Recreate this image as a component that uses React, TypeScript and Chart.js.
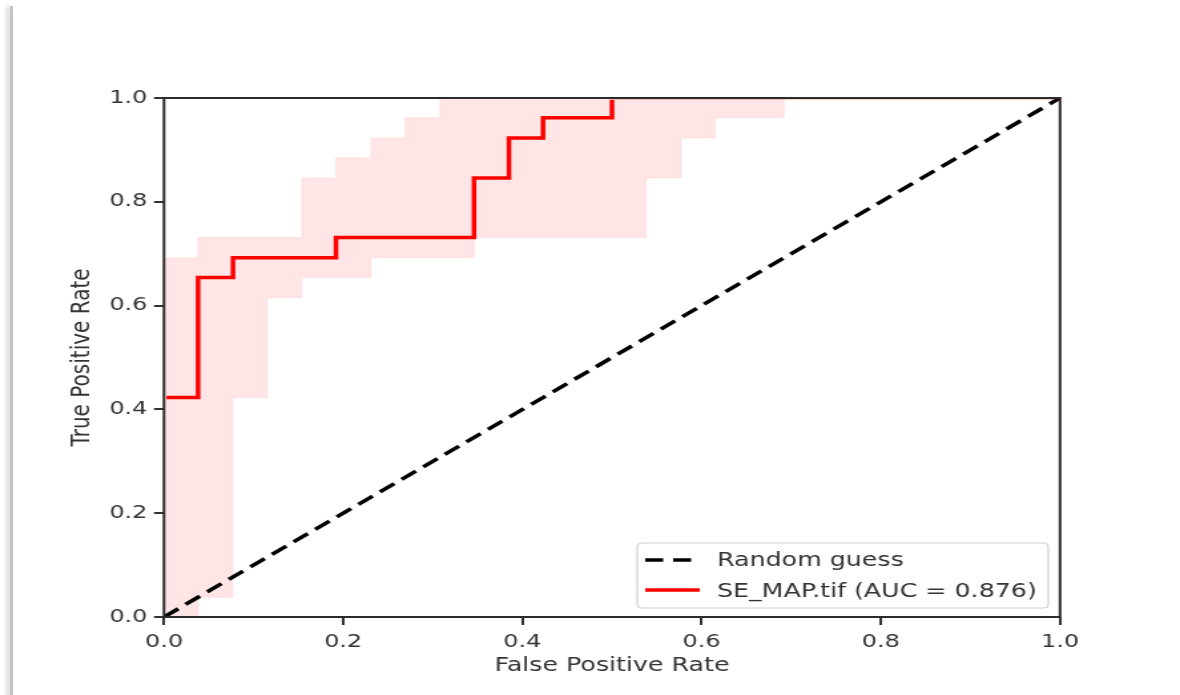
import React, { useEffect, useRef } from "react";
import { Chart, registerables } from "chart.js";

Chart.register(...registerables);

// ---- data ----
const rocFpr = [0, 0, 0.038, 0.038, 0.077, 0.077, 0.192, 0.192, 0.346, 0.346, 0.385, 0.385, 0.423, 0.423, 0.5, 0.5, 1.0];
const rocTpr = [0, 0.423, 0.423, 0.654, 0.654, 0.692, 0.692, 0.731, 0.731, 0.846, 0.846, 0.923, 0.923, 0.962, 0.962, 1.0, 1.0];

const bandFpr = [0, 0.038, 0.077, 0.115, 0.154, 0.192, 0.231, 0.269, 0.308, 0.346, 0.538, 0.577, 0.615, 0.692, 1.0];
const bandUpper = [0.692, 0.731, 0.731, 0.731, 0.846, 0.885, 0.923, 0.962, 1, 1, 1, 1, 1, 1, 1];
const bandLower = [0, 0.038, 0.423, 0.615, 0.654, 0.654, 0.692, 0.692, 0.692, 0.731, 0.846, 0.923, 0.962, 1, 1];

const guessX = [0, 1];
const guessY = [0, 1];

const axisTicks = [0, 0.2, 0.4, 0.6, 0.8, 1.0];
const legendLabels = ["Random guess", "SE_MAP.tif (AUC = 0.876)"];
const xTitle = "False Positive Rate";
const yTitle = "True Positive Rate";

// ---- layout (internal canvas px; canvas is stretched horizontally by CSS) ----
const CSS_W = 1180;
const CSS_H = 695;
const INT_W = 887;
const K = CSS_W / INT_W;
const PLOT_LEFT = 164 / K;
const PLOT_RIGHT = 1060 / K;
const PLOT_TOP = 98;
const PLOT_BOTTOM = 617;
const FONT = "'DejaVu Sans', sans-serif";
const TEXT = "#333333";

const pts = (xs: number[], ys: number[]) => xs.map((x, i) => ({ x, y: ys[i] }));

const framePlugin = {
  id: "frameAndLegend",
  afterDatasetsDraw(chart: any) {
    const { ctx, chartArea: a } = chart;
    ctx.save();
    ctx.strokeStyle = "#2b2b2b";
    ctx.lineWidth = 2;
    ctx.strokeRect(a.left, a.top, a.right - a.left, a.bottom - a.top);
    ctx.restore();
  },
  afterDraw(chart: any) {
    const { ctx } = chart;
    const bx = 479, by = 543, bw = 309, bh = 65, r = 4;
    ctx.save();
    ctx.beginPath();
    ctx.moveTo(bx + r, by);
    ctx.lineTo(bx + bw - r, by);
    ctx.quadraticCurveTo(bx + bw, by, bx + bw, by + r);
    ctx.lineTo(bx + bw, by + bh - r);
    ctx.quadraticCurveTo(bx + bw, by + bh, bx + bw - r, by + bh);
    ctx.lineTo(bx + r, by + bh);
    ctx.quadraticCurveTo(bx, by + bh, bx, by + bh - r);
    ctx.lineTo(bx, by + r);
    ctx.quadraticCurveTo(bx, by, bx + r, by);
    ctx.closePath();
    ctx.fillStyle = "rgba(255,255,255,0.85)";
    ctx.fill();
    ctx.strokeStyle = "#d0d0d0";
    ctx.lineWidth = 1.2;
    ctx.stroke();

    // sample 1: dashed black
    ctx.lineWidth = 3.5;
    ctx.strokeStyle = "#000";
    ctx.setLineDash([13.5, 7.5]);
    ctx.beginPath();
    ctx.moveTo(485, 560);
    ctx.lineTo(526, 560);
    ctx.stroke();
    // sample 2: red solid
    ctx.setLineDash([]);
    ctx.strokeStyle = "#ff0000";
    ctx.beginPath();
    ctx.moveTo(485, 590);
    ctx.lineTo(526, 590);
    ctx.stroke();

    ctx.fillStyle = TEXT;
    ctx.font = `19px ${FONT}`;
    ctx.textAlign = "left";
    ctx.textBaseline = "alphabetic";
    ctx.fillText(legendLabels[0], 539, 565.5);
    ctx.fillText(legendLabels[1], 539, 597);
    ctx.restore();
  },
};

export default function App() {
  const ref = useRef<HTMLCanvasElement | null>(null);

  useEffect(() => {
    if (!ref.current) return;
    const setTicks = (s: any) => {
      s.ticks = axisTicks.map((v) => ({ value: v }));
    };
    const chart = new Chart(ref.current, {
      type: "line",
      data: {
        datasets: [
          {
            label: "upper",
            data: pts(bandFpr, bandUpper),
            stepped: "before",
            borderColor: "rgba(255,0,0,0.07)",
            borderWidth: 1,
            backgroundColor: "rgba(255,0,0,0.1)",
            fill: "+1",
            pointRadius: 0,
            order: 4,
            clip: 0,
          },
          {
            label: "lower",
            data: pts(bandFpr, bandLower),
            stepped: "before",
            borderColor: "rgba(255,0,0,0.07)",
            borderWidth: 1,
            fill: false,
            pointRadius: 0,
            order: 3,
            clip: 0,
          },
          {
            label: legendLabels[0],
            data: pts(guessX, guessY),
            borderColor: "#000000",
            borderWidth: 3.5,
            borderDash: [13.5, 7],
            fill: false,
            pointRadius: 0,
            order: 2,
          },
          {
            label: legendLabels[1],
            data: pts(rocFpr, rocTpr),
            borderColor: "#ff0000",
            borderWidth: 3.5,
            fill: false,
            pointRadius: 0,
            order: 1,
            clip: { left: -1.8, top: -1.8, right: 0, bottom: 0 },
          },
        ],
      },
      options: {
        animation: false,
        responsive: false,
        events: [],
        layout: {
          padding: { left: 0, right: INT_W - PLOT_RIGHT, top: PLOT_TOP, bottom: 0 },
        },
        plugins: {
          legend: { display: false },
          tooltip: { enabled: false },
        },
        scales: {
          x: {
            type: "linear",
            min: 0,
            max: 1,
            afterBuildTicks: setTicks,
            afterFit: (s: any) => {
              s.height = CSS_H - PLOT_BOTTOM;
            },
            border: { display: false },
            grid: { drawOnChartArea: false, drawTicks: true, tickLength: 8, color: "#333", lineWidth: 2 },
            ticks: {
              autoSkip: false,
              maxRotation: 0,
              padding: 7,
              color: TEXT,
              font: { family: FONT, size: 18 },
              callback: (v: any) => Number(v).toFixed(1),
            },
            title: {
              display: true,
              text: xTitle,
              color: TEXT,
              font: { family: FONT, size: 19, lineHeight: 1.2 },
              padding: { top: 0, bottom: 18 },
            },
          },
          y: {
            type: "linear",
            min: 0,
            max: 1,
            afterBuildTicks: setTicks,
            afterFit: (s: any) => {
              s.width = PLOT_LEFT;
            },
            border: { display: false },
            grid: { drawOnChartArea: false, drawTicks: true, tickLength: 7.5, color: "#333", lineWidth: 2 },
            ticks: {
              autoSkip: false,
              padding: 5,
              color: TEXT,
              font: { family: FONT, size: 18 },
              callback: (v: any) => Number(v).toFixed(1),
            },
            title: {
              display: true,
              text: yTitle,
              color: TEXT,
              font: { family: FONT, size: 20, lineHeight: 1.2 },
              padding: { top: 50, bottom: 0 },
            },
          },
        },
      },
      plugins: [framePlugin],
    } as any);
    return () => chart.destroy();
  }, []);

  return (
    <div style={{ position: "absolute", left: 0, top: 0, width: CSS_W, height: CSS_H, background: "#fff", overflow: "hidden" }}>
      <canvas
        ref={ref}
        width={INT_W}
        height={CSS_H}
        style={{ width: `${CSS_W}px`, height: `${CSS_H}px`, display: "block" }}
      />
      <div
        style={{
          position: "absolute",
          left: 10,
          top: 6,
          width: 3,
          height: CSS_H,
          background: "#c4c4c4",
          boxShadow: "-3px 0 4px rgba(0,0,0,0.22)",
        }}
      />
    </div>
  );
}
